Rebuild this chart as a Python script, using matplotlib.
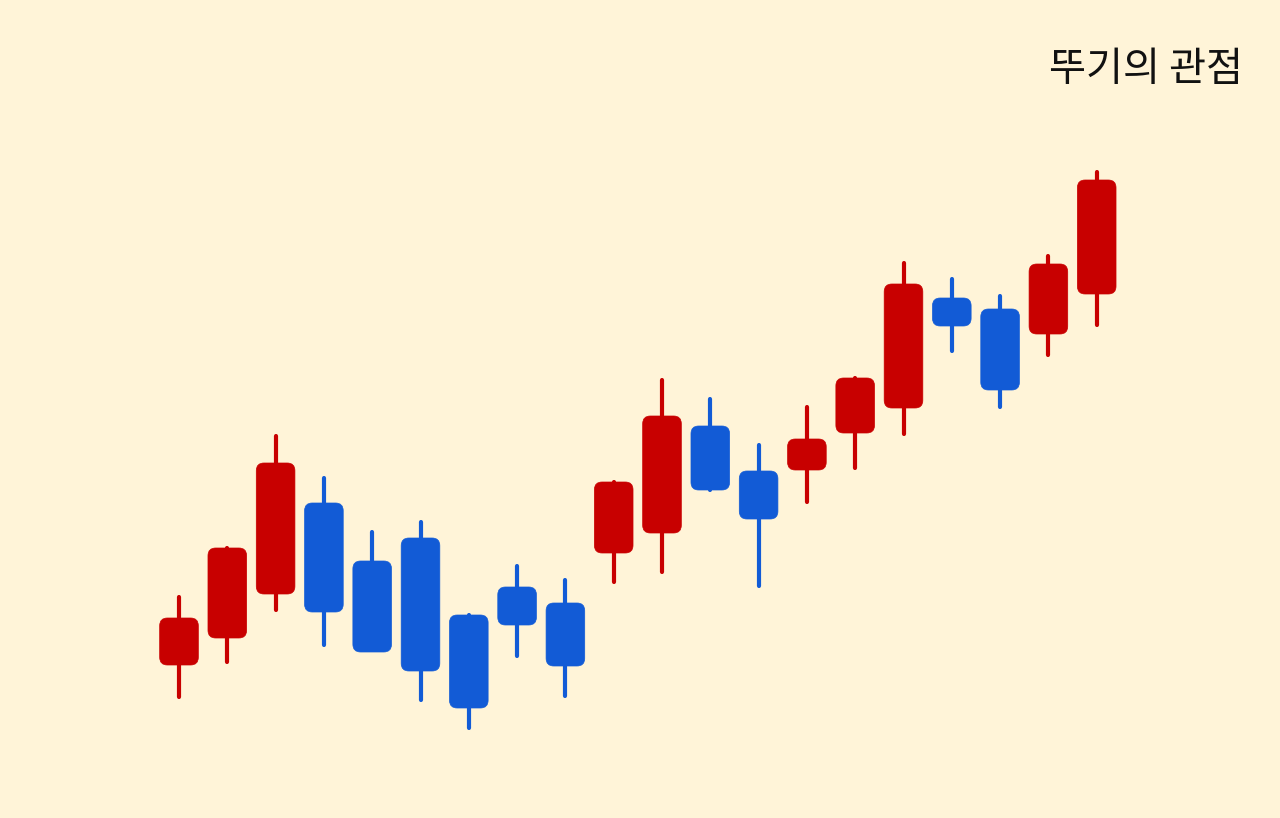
import matplotlib
matplotlib.use("Agg")
import matplotlib.pyplot as plt
from matplotlib.patches import FancyBboxPatch
import numpy as np

plt.rcParams["font.family"] = ["Noto Sans CJK KR", "DejaVu Sans"]

BG = "#FFF4D8"
UP = "#C80000"
DOWN = "#125BD6"

# ── Candle data (arbitrary price units) ───────────────────────────────────────
opens = [153, 180, 224, 315, 257, 280, 203, 231, 215, 265, 285, 392, 347, 348, 385, 410, 520, 509, 484, 524]
highs = [221, 270, 382, 340, 286, 296, 203, 252, 238, 336, 438, 419, 373, 411, 440, 555, 539, 522, 562, 646]
lows  = [121, 156, 208, 173, 173, 118,  90, 162, 122, 236, 246, 328, 232, 316, 350, 384, 467, 411, 463, 493]
closes = [200, 270, 355, 206, 166, 147, 110, 193, 152, 336, 402, 328, 299, 379, 440, 534, 492, 428, 554, 638]

TITLE = "뚜기의 관점"

fig = plt.figure(figsize=(12.8, 8.18), dpi=100)
fig.patch.set_facecolor(BG)
ax = fig.add_axes([0, 0, 1, 1])
ax.set_facecolor(BG)

step = 48.3  # px per candle
ax.set_xlim(-179 / step, (1280 - 179) / step)
ax.set_ylim(0, 818)
ax.set_axis_off()

width = 0.8
aspect = step  # y units per x unit in pixels
for i, (o, h, l, c) in enumerate(zip(opens, highs, lows, closes)):
    col = UP if c >= o else DOWN
    ax.plot([i, i], [l, h], color=col, lw=3.0, solid_capstyle="round", zorder=1)
    bottom, top = min(o, c), max(o, c)
    body = FancyBboxPatch((i - width / 2, bottom), width, top - bottom,
                          boxstyle="round,pad=0,rounding_size=0.16",
                          mutation_aspect=aspect, facecolor=col,
                          edgecolor=col, lw=0.5, zorder=2)
    ax.add_patch(body)

fig.text(1146 / 1280, 1 - 70 / 818, TITLE, fontsize=29, color="#111111",
         ha="center", va="center", fontweight="medium")

fig.savefig("out.png", dpi=100, facecolor=BG)
